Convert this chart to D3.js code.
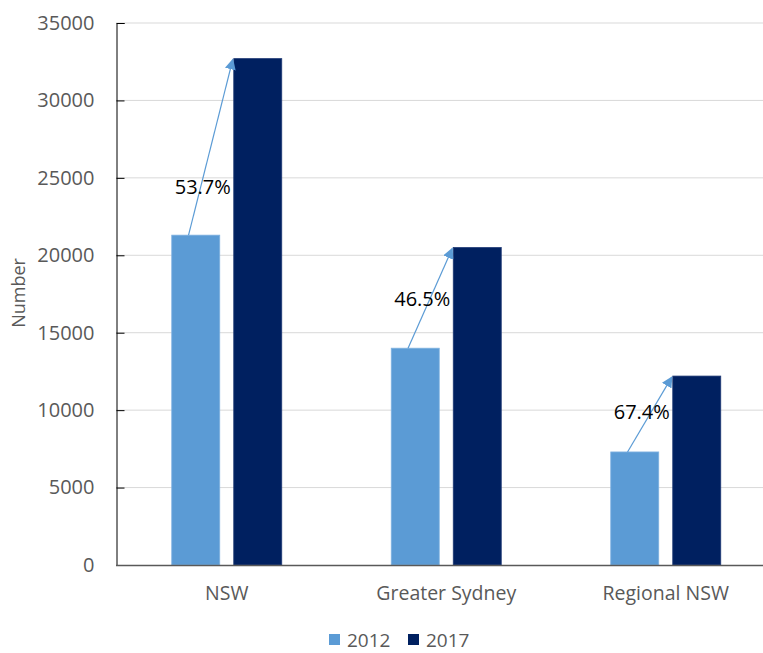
<!DOCTYPE html>
<html>
  <head>
    <meta charset="utf-8">
    <title>Number by region</title>
    <script src="https://cdn.jsdelivr.net/npm/d3@7/dist/d3.min.js"></script>
    <style>
      body { margin: 0; background: #fff; }
      text { font-family: "Open Sans", "Noto Sans", sans-serif; }
    </style>
  </head>
  <body>
    <svg width="763" height="653" id="mainsvg"></svg>
    <script>
      const categories = ['NSW', 'Greater Sydney', 'Regional NSW'];
      const years = ['2012', '2017'];
      const values2012 = [21300, 14000, 7300];
      const values2017 = [32700, 20500, 12200];
      const changeLabels = ['53.7%', '46.5%', '67.4%'];
      // where each change label sits, in data units
      const labelAt = [24400, 17200, 9900];
      const yTicks = [0, 5000, 10000, 15000, 20000, 25000, 30000, 35000];

      const colors = {'2012': '#5b9bd5', '2017': '#002060'};

      const svg = d3.select('#mainsvg');
      const width = +svg.attr('width');
      const margin = {top: 23, left: 116, bottom: 88};
      const plotBottom = 565;

      const yScale = d3.scaleLinear()
        .domain([0, 35000])
        .range([plotBottom, margin.top]);

      const xScale = d3.scaleBand()
        .domain(categories)
        .range([117, 775.5])
        .padding(0);

      const groupWidth = 110;
      const xSub = d3.scaleBand()
        .domain(years)
        .range([xScale.bandwidth() / 2 - groupWidth / 2, xScale.bandwidth() / 2 + groupWidth / 2])
        .paddingInner(0.226)
        .paddingOuter(0);

      // gridlines
      svg.append('g')
        .selectAll('line')
        .data(yTicks.slice(1))
        .enter().append('line')
        .attr('x1', margin.left)
        .attr('x2', width)
        .attr('y1', d => yScale(d))
        .attr('y2', d => yScale(d))
        .attr('stroke', '#d9d9d9')
        .attr('stroke-width', 1);

      // y axis
      const yAxis = d3.axisLeft(yScale)
        .tickValues(yTicks)
        .tickSize(-8)
        .tickFormat(d3.format('d'));
      const yAxisGroup = svg.append('g')
        .attr('transform', `translate(${margin.left + 0.5}, 0)`)
        .call(yAxis);
      yAxisGroup.select('.domain').attr('stroke', '#000');
      yAxisGroup.selectAll('.tick line').attr('stroke', '#000');
      yAxisGroup.selectAll('.tick').filter(d => d === 0).select('line').remove();
      yAxisGroup.selectAll('text')
        .attr('fill', '#595959')
        .style('font-size', '20px')
        .attr('x', -22);

      const rows = categories.map((c, i) => ({
        name: c, v2012: values2012[i], v2017: values2017[i],
        label: changeLabels[i], labelAt: labelAt[i]
      }));

      // bars
      const groups = svg.append('g')
        .selectAll('g')
        .data(rows)
        .enter().append('g')
        .attr('transform', d => `translate(${xScale(d.name)}, 0)`);

      groups.selectAll('rect')
        .data(d => years.map(y => ({year: y, value: d['v' + y]})))
        .enter().append('rect')
        .attr('x', d => xSub(d.year))
        .attr('width', xSub.bandwidth())
        .attr('y', d => yScale(d.value))
        .attr('height', d => plotBottom - yScale(d.value))
        .attr('fill', d => colors[d.year])
        .attr('stroke', d => d.year === '2012' ? '#7fb2e0' : '#1f3a75')
        .attr('stroke-width', 0.8);

      // x axis line
      svg.append('line')
        .attr('x1', margin.left)
        .attr('x2', width)
        .attr('y1', plotBottom + 0.5)
        .attr('y2', plotBottom + 0.5)
        .attr('stroke', '#595959')
        .attr('stroke-width', 1.5);

      // category labels
      svg.append('g')
        .selectAll('text')
        .data(categories)
        .enter().append('text')
        .attr('x', d => xScale(d) + xScale.bandwidth() / 2)
        .attr('y', 600)
        .attr('text-anchor', 'middle')
        .attr('fill', '#595959')
        .style('font-size', '19.5px')
        .text(d => d);

      // arrows
      svg.append('defs').append('marker')
        .attr('id', 'arrow')
        .attr('viewBox', '0 0 10 10')
        .attr('refX', 9)
        .attr('refY', 5)
        .attr('markerWidth', 11)
        .attr('markerHeight', 11)
        .attr('markerUnits', 'userSpaceOnUse')
        .attr('orient', 'auto')
        .append('path')
        .attr('d', 'M0,0 L10,5 L0,10 z')
        .attr('fill', '#5b9bd5');

      groups.append('line')
        .attr('x1', xSub('2012') + xSub.bandwidth() * 0.35)
        .attr('y1', d => yScale(d.v2012))
        .attr('x2', xSub('2017') - 1)
        .attr('y2', d => yScale(d.v2017) + 1)
        .attr('stroke', '#5b9bd5')
        .attr('stroke-width', 1.2)
        .attr('marker-end', 'url(#arrow)');

      groups.append('text')
        .attr('x', xSub('2012') + 31)
        .attr('y', d => yScale(d.labelAt))
        .attr('dy', '0.35em')
        .attr('text-anchor', 'middle')
        .attr('fill', '#000')
        .style('font-size', '20px')
        .text(d => d.label);

      // y axis title
      svg.append('text')
        .attr('transform', 'translate(25, 293) rotate(-90)')
        .attr('text-anchor', 'middle')
        .attr('fill', '#595959')
        .style('font-size', '18px')
        .text('Number');

      // legend
      const legend = svg.append('g')
        .selectAll('g')
        .data(years)
        .enter().append('g')
        .attr('transform', (d, i) => `translate(${329 + i * 79}, 634)`);
      legend.append('rect')
        .attr('width', 11)
        .attr('height', 11)
        .attr('fill', d => colors[d]);
      legend.append('text')
        .attr('x', 18)
        .attr('y', 6)
        .attr('dy', '0.35em')
        .attr('fill', '#595959')
        .style('font-size', '19px')
        .text(d => d);
    </script>
  </body>
</html>
